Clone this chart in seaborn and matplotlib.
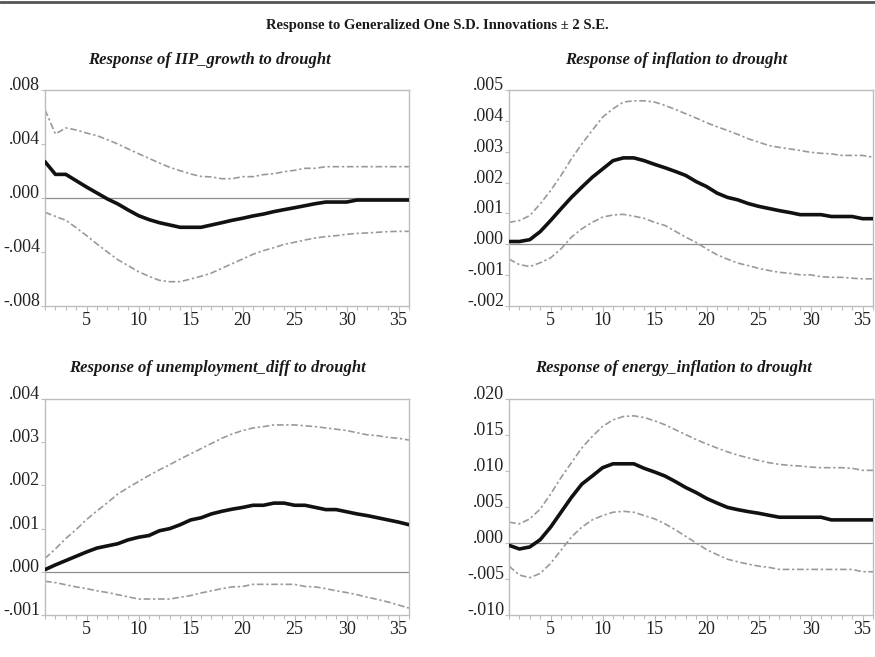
import matplotlib
matplotlib.use("Agg")
import matplotlib.pyplot as plt
from matplotlib.lines import Line2D
from matplotlib.ticker import FixedLocator, FuncFormatter
import numpy as np
import pandas as pd
import seaborn as sns

# Impulse responses (values in units of 0.001) for horizons 1..36
steps = list(range(1, 37))

iip_resp = [2.69, 1.75, 1.75, 1.28, 0.81, 0.37, -0.07, -0.44, -0.89, -1.31, -1.60, -1.83,
            -2.00, -2.17, -2.17, -2.17, -2.00, -1.83, -1.65, -1.50, -1.33, -1.19, -1.01, -0.86,
            -0.72, -0.57, -0.42, -0.30, -0.30, -0.30, -0.15, -0.15, -0.15, -0.15, -0.15, -0.15]
iip_upper = [6.54, 4.74, 5.19, 5.04, 4.81, 4.62, 4.32, 4.00, 3.63, 3.28, 2.94, 2.59,
             2.27, 2.02, 1.78, 1.60, 1.56, 1.43, 1.43, 1.58, 1.58, 1.73, 1.80, 1.95,
             2.05, 2.20, 2.20, 2.32, 2.32, 2.32, 2.32, 2.32, 2.32, 2.32, 2.32, 2.32]
iip_lower = [-1.06, -1.36, -1.65, -2.20, -2.79, -3.41, -4.00, -4.57, -5.01, -5.46, -5.80, -6.10,
             -6.20, -6.20, -6.00, -5.80, -5.56, -5.21, -4.86, -4.52, -4.17, -3.90, -3.68, -3.43,
             -3.28, -3.11, -2.96, -2.86, -2.79, -2.69, -2.62, -2.59, -2.54, -2.49, -2.47, -2.47]

infl_resp = [0.09, 0.09, 0.15, 0.41, 0.77, 1.15, 1.52, 1.85, 2.17, 2.44, 2.71, 2.80,
             2.80, 2.71, 2.59, 2.48, 2.36, 2.23, 2.03, 1.87, 1.66, 1.52, 1.44, 1.32,
             1.23, 1.16, 1.09, 1.03, 0.96, 0.96, 0.96, 0.90, 0.90, 0.90, 0.83, 0.83]
infl_upper = [0.71, 0.77, 0.93, 1.31, 1.74, 2.23, 2.77, 3.25, 3.69, 4.12, 4.39, 4.61,
              4.65, 4.65, 4.61, 4.50, 4.37, 4.23, 4.09, 3.94, 3.81, 3.69, 3.56, 3.42,
              3.31, 3.20, 3.14, 3.09, 3.04, 2.98, 2.95, 2.93, 2.88, 2.88, 2.88, 2.82]
infl_lower = [-0.48, -0.66, -0.72, -0.60, -0.44, -0.15, 0.23, 0.50, 0.71, 0.88, 0.95, 0.97,
              0.91, 0.84, 0.71, 0.61, 0.42, 0.23, 0.06, -0.15, -0.34, -0.48, -0.61, -0.69,
              -0.78, -0.85, -0.91, -0.94, -0.99, -0.99, -1.05, -1.07, -1.07, -1.10, -1.12, -1.12]

unemp_resp = [0.05, 0.16, 0.26, 0.36, 0.46, 0.55, 0.60, 0.65, 0.74, 0.80, 0.84, 0.95,
              1.00, 1.09, 1.20, 1.25, 1.34, 1.40, 1.45, 1.49, 1.54, 1.54, 1.59, 1.59,
              1.54, 1.54, 1.49, 1.44, 1.44, 1.39, 1.34, 1.30, 1.25, 1.20, 1.15, 1.09]
unemp_upper = [0.31, 0.53, 0.77, 0.98, 1.21, 1.41, 1.60, 1.80, 1.95, 2.09, 2.23, 2.36,
               2.48, 2.61, 2.73, 2.85, 2.97, 3.09, 3.19, 3.27, 3.33, 3.36, 3.40, 3.40,
               3.40, 3.38, 3.36, 3.33, 3.30, 3.27, 3.22, 3.17, 3.15, 3.11, 3.09, 3.05]
unemp_lower = [-0.22, -0.25, -0.30, -0.35, -0.39, -0.44, -0.48, -0.53, -0.58, -0.63, -0.63, -0.63,
               -0.63, -0.59, -0.55, -0.49, -0.44, -0.39, -0.35, -0.34, -0.29, -0.29, -0.29, -0.29,
               -0.29, -0.34, -0.35, -0.39, -0.44, -0.48, -0.53, -0.59, -0.64, -0.70, -0.77, -0.84]

energy_resp = [-0.32, -0.83, -0.55, 0.46, 2.20, 4.27, 6.33, 8.17, 9.30, 10.46, 11.00, 11.00,
               11.00, 10.37, 9.86, 9.30, 8.53, 7.70, 7.00, 6.19, 5.55, 4.95, 4.63, 4.36,
               4.13, 3.85, 3.58, 3.58, 3.58, 3.58, 3.58, 3.21, 3.21, 3.21, 3.21, 3.21]
energy_upper = [2.89, 2.66, 3.35, 4.72, 6.79, 9.08, 11.15, 13.20, 14.80, 16.20, 17.10, 17.57,
                17.66, 17.43, 16.97, 16.42, 15.73, 15.05, 14.36, 13.76, 13.20, 12.66, 12.20, 11.83,
                11.47, 11.15, 10.92, 10.78, 10.69, 10.55, 10.46, 10.46, 10.46, 10.37, 10.09, 10.09]
energy_lower = [-3.21, -4.45, -4.82, -4.22, -2.84, -1.00, 0.83, 2.20, 3.21, 3.81, 4.27, 4.40,
                4.27, 3.81, 3.35, 2.66, 1.83, 0.92, 0.00, -0.92, -1.60, -2.25, -2.61, -2.94,
                -3.21, -3.39, -3.67, -3.67, -3.67, -3.67, -3.67, -3.67, -3.67, -3.67, -3.99, -3.99]

panel_titles = ["Response of IIP_growth to drought",
                "Response of inflation to drought",
                "Response of unemployment_diff to drought",
                "Response of energy_inflation to drought"]
panel_series = [(iip_resp, iip_upper, iip_lower),
                (infl_resp, infl_upper, infl_lower),
                (unemp_resp, unemp_upper, unemp_lower),
                (energy_resp, energy_upper, energy_lower)]
panel_yticks = [[-.008, -.004, .000, .004, .008],
                [-.002, -.001, .000, .001, .002, .003, .004, .005],
                [-.001, .000, .001, .002, .003, .004],
                [-.010, -.005, .000, .005, .010, .015, .020]]
xtick_labels = [5, 10, 15, 20, 25, 30, 35]

sns.set_theme(style="white")
plt.rcParams["font.family"] = ["Liberation Serif", "DejaVu Serif"]

W, H = 875, 657
fig = plt.figure(figsize=(W / 100, H / 100), dpi=100)

# axes rectangles in pixel coordinates: left, top, right, bottom
rects = [(45, 90, 409, 306), (509, 90, 873, 306),
         (45, 399, 409, 615), (509, 399, 873, 615)]
title_pos = [(209, 60), (676, 60), (217, 368), (673, 368)]

frame_col = "#bdbdbd"
band_col = "#9a9a9a"


def fmt(v, _pos):
    s = f"{v:.3f}"
    return s.replace("0.", ".", 1)


for k in range(4):
    l, t, r, b = rects[k]
    ax = fig.add_axes([l / W, 1 - b / H, (r - l) / W, (b - t) / H])
    resp, upper, lower = panel_series[k]
    scale = 0.001
    df = pd.DataFrame({
        "step": steps * 3,
        "value": [v * scale for v in resp] + [v * scale for v in upper] + [v * scale for v in lower],
        "series": ["resp"] * 36 + ["upper"] * 36 + ["lower"] * 36,
    })
    ax.axhline(0, color="#8c8c8c", lw=0.9, zorder=1)
    for name in ["upper", "lower"]:
        sns.lineplot(data=df[df.series == name], x="step", y="value", ax=ax,
                     color=band_col, lw=1.2, linestyle=(0, (4, 1.6, 1.4, 1.6)),
                     legend=False, zorder=2)
    sns.lineplot(data=df[df.series == "resp"], x="step", y="value", ax=ax,
                 color="#111111", lw=2.6, legend=False, zorder=3)

    yt = panel_yticks[k]
    ax.set_xlim(1, 36)
    ax.set_ylim(yt[0], yt[-1])
    ax.set_xlabel("")
    ax.set_ylabel("")
    ax.yaxis.set_major_locator(FixedLocator(yt))
    ax.yaxis.set_major_formatter(FuncFormatter(fmt))
    ax.xaxis.set_major_locator(FixedLocator(xtick_labels))
    ax.xaxis.set_minor_locator(FixedLocator(steps))
    for side in ax.spines.values():
        side.set_color(frame_col)
        side.set_linewidth(1.0)
    ax.tick_params(axis="y", which="major", direction="out", length=3, width=0.8,
                   color=frame_col, labelsize=13, pad=0.5, left=True, labelcolor="#222222")
    ax.tick_params(axis="x", which="major", direction="out", length=4, width=0.8,
                   color=frame_col, labelsize=13, pad=0.5, bottom=True, labelcolor="#222222")
    ax.tick_params(axis="x", which="minor", direction="out", length=3, width=0.8,
                   color=frame_col, bottom=True)
    for lbl in ax.get_yticklabels():
        lbl.set_verticalalignment("baseline")
    ax.grid(False)

    tx, ty = title_pos[k]
    fig.text(tx / W, 1 - ty / H, panel_titles[k], ha="center", va="center",
             fontsize=12, fontweight="bold", fontstyle="italic", color="#1a1a1a")

fig.text(437 / W, 1 - 25 / H, "Response to Generalized One S.D. Innovations \u00b1 2 S.E.",
         ha="center", va="center", fontsize=10.5, fontweight="bold", color="#1a1a1a")
fig.add_artist(Line2D([0, 1], [1 - 1.5 / H, 1 - 1.5 / H], transform=fig.transFigure,
                      color="#555555", lw=2))

fig.savefig("out.png", dpi=100)
